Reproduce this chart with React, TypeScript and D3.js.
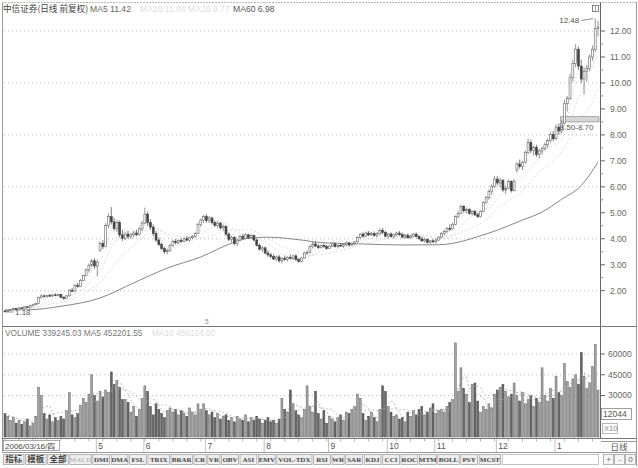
import * as d3 from "d3"

const W = 638
const H = 468

const startLabel = "2006/03/16/四"
const months = ["5", "6", "7", "8", "9", "10", "11", "12", "1"]
const monthStart = [33, 50, 72, 93, 116, 137, 154, 176, 197]

const priceTicks = [2, 3, 4, 5, 6, 7, 8, 9, 10, 11, 12]
const priceGrid = [2, 4, 6, 8, 10, 12]
const volTicks = [30000, 45000, 60000]
const zone = [8.5, 8.7]
const zoneStart = 199

// daily [open, high, low, close]
const ohlc: number[][] = [
  [1.22, 1.25, 1.18, 1.21], [1.21, 1.26, 1.2, 1.24], [1.24, 1.3, 1.23, 1.28], [1.28, 1.33, 1.26, 1.31],
  [1.31, 1.33, 1.27, 1.29], [1.29, 1.36, 1.28, 1.34], [1.34, 1.38, 1.31, 1.33], [1.33, 1.4, 1.32, 1.38],
  [1.38, 1.41, 1.34, 1.36], [1.36, 1.45, 1.35, 1.43], [1.43, 1.48, 1.4, 1.46], [1.46, 1.52, 1.44, 1.5],
  [1.5, 1.78, 1.49, 1.74], [1.74, 1.86, 1.7, 1.8], [1.8, 1.86, 1.74, 1.78], [1.78, 1.84, 1.74, 1.82],
  [1.82, 1.88, 1.77, 1.8], [1.8, 1.86, 1.76, 1.84], [1.84, 1.9, 1.79, 1.82], [1.82, 1.88, 1.78, 1.85],
  [1.85, 1.87, 1.72, 1.74], [1.74, 1.78, 1.65, 1.7], [1.7, 1.82, 1.68, 1.8], [1.8, 2.06, 1.78, 2.02],
  [2.02, 2.1, 1.95, 1.98], [1.98, 2.25, 1.97, 2.21], [2.21, 2.3, 2.12, 2.16], [2.16, 2.45, 2.15, 2.4],
  [2.4, 2.62, 2.38, 2.58], [2.58, 2.85, 2.55, 2.8], [2.8, 3.05, 2.7, 2.98], [2.98, 3.22, 2.9, 3.15],
  [3.15, 3.25, 2.85, 2.95], [2.95, 3.2, 2.55, 3.1], [3.55, 3.9, 3.5, 3.82], [3.82, 3.95, 3.6, 3.7],
  [3.7, 4.6, 3.68, 4.52], [4.52, 4.98, 4.4, 4.85], [4.85, 5.22, 4.55, 4.65], [4.65, 4.8, 4.3, 4.4],
  [4.4, 4.72, 4.25, 4.62], [4.62, 4.7, 4.05, 4.15], [4.15, 4.35, 3.92, 4.02], [4.02, 4.25, 3.95, 4.18],
  [4.18, 4.3, 4.0, 4.08], [4.08, 4.22, 3.98, 4.15], [4.15, 4.3, 4.05, 4.22], [4.22, 4.35, 4.1, 4.16],
  [4.16, 4.45, 4.12, 4.38], [4.38, 4.7, 4.3, 4.6], [4.6, 5.2, 4.55, 4.95], [4.95, 5.05, 4.5, 4.62],
  [4.62, 4.75, 4.35, 4.45], [4.45, 4.55, 4.1, 4.2], [4.2, 4.3, 3.88, 3.95], [3.95, 4.05, 3.72, 3.78],
  [3.78, 3.85, 3.55, 3.62], [3.62, 3.7, 3.42, 3.5], [3.5, 3.62, 3.4, 3.55], [3.55, 3.8, 3.5, 3.74],
  [3.74, 3.95, 3.7, 3.9], [3.9, 4.0, 3.78, 3.85], [3.85, 3.98, 3.8, 3.94], [3.94, 4.02, 3.85, 3.9],
  [3.9, 4.05, 3.86, 4.0], [4.0, 4.1, 3.9, 3.95], [3.95, 4.08, 3.88, 4.04], [4.04, 4.15, 3.98, 4.1],
  [4.1, 4.25, 4.05, 4.2], [4.2, 4.62, 4.18, 4.55], [4.55, 4.78, 4.45, 4.72], [4.72, 4.92, 4.6, 4.85],
  [4.85, 4.95, 4.62, 4.7], [4.7, 4.88, 4.6, 4.8], [4.8, 4.85, 4.55, 4.62], [4.62, 4.7, 4.45, 4.52],
  [4.52, 4.68, 4.4, 4.6], [4.6, 4.65, 4.35, 4.42], [4.42, 4.55, 4.3, 4.48], [4.48, 4.52, 4.1, 4.18],
  [4.18, 4.25, 3.9, 3.98], [3.98, 4.12, 3.85, 4.05], [4.05, 4.1, 3.75, 3.82], [3.82, 4.0, 3.72, 3.95],
  [3.95, 4.15, 3.9, 4.08], [4.08, 4.18, 3.95, 4.02], [4.02, 4.22, 4.0, 4.15], [4.15, 4.2, 4.0, 4.05],
  [4.05, 4.18, 3.98, 4.12], [4.12, 4.16, 3.9, 3.95], [3.95, 4.0, 3.7, 3.75], [3.75, 3.82, 3.55, 3.6],
  [3.6, 3.72, 3.48, 3.65], [3.65, 3.7, 3.4, 3.45], [3.45, 3.55, 3.3, 3.38], [3.38, 3.45, 3.25, 3.32],
  [3.32, 3.4, 3.18, 3.22], [3.22, 3.35, 3.15, 3.3], [3.3, 3.38, 3.08, 3.15], [3.15, 3.28, 3.05, 3.25],
  [3.25, 3.35, 3.15, 3.2], [3.2, 3.32, 3.12, 3.28], [3.28, 3.4, 3.2, 3.25], [3.25, 3.38, 3.18, 3.34],
  [3.34, 3.4, 3.15, 3.2], [3.2, 3.25, 3.08, 3.12], [3.12, 3.3, 3.1, 3.26], [3.26, 3.5, 3.24, 3.45],
  [3.45, 3.55, 3.38, 3.48], [3.48, 3.75, 3.45, 3.7], [3.7, 3.88, 3.62, 3.8], [3.8, 3.9, 3.68, 3.72],
  [3.72, 3.8, 3.6, 3.66], [3.66, 3.78, 3.62, 3.74], [3.74, 3.82, 3.65, 3.7], [3.7, 3.76, 3.58, 3.63],
  [3.63, 3.75, 3.6, 3.72], [3.72, 3.85, 3.68, 3.8], [3.8, 3.86, 3.66, 3.7], [3.7, 3.78, 3.62, 3.75],
  [3.75, 3.82, 3.68, 3.72], [3.72, 3.8, 3.65, 3.78], [3.78, 3.9, 3.72, 3.84], [3.84, 3.88, 3.7, 3.76],
  [3.76, 3.86, 3.72, 3.82], [3.82, 3.92, 3.75, 3.88], [3.88, 4.1, 3.85, 4.05], [4.05, 4.22, 4.0, 4.18],
  [4.18, 4.25, 4.05, 4.1], [4.1, 4.28, 4.08, 4.22], [4.22, 4.3, 4.1, 4.15], [4.15, 4.26, 4.1, 4.2],
  [4.2, 4.28, 4.08, 4.12], [4.12, 4.25, 4.05, 4.2], [4.2, 4.4, 4.15, 4.32], [4.32, 4.42, 4.18, 4.25],
  [4.25, 4.3, 4.05, 4.1], [4.1, 4.22, 4.02, 4.18], [4.18, 4.25, 4.05, 4.08], [4.08, 4.2, 4.0, 4.15],
  [4.15, 4.28, 4.1, 4.22], [4.22, 4.3, 4.12, 4.16], [4.16, 4.24, 4.02, 4.06], [4.06, 4.18, 4.0, 4.12],
  [4.12, 4.2, 4.0, 4.04], [4.04, 4.15, 3.98, 4.1], [4.1, 4.22, 4.05, 4.18], [4.18, 4.24, 4.05, 4.08],
  [4.08, 4.12, 3.96, 4.0], [4.0, 4.06, 3.88, 3.92], [3.92, 4.02, 3.85, 3.97], [3.97, 4.0, 3.82, 3.86],
  [3.86, 3.95, 3.8, 3.92], [3.92, 3.98, 3.84, 3.88], [3.88, 4.0, 3.82, 3.95], [3.95, 4.1, 3.92, 4.06],
  [4.06, 4.25, 4.02, 4.2], [4.2, 4.35, 4.12, 4.28], [4.28, 4.45, 4.22, 4.4], [4.4, 4.55, 4.3, 4.38],
  [4.38, 4.62, 4.35, 4.55], [4.55, 4.9, 4.52, 4.85], [4.85, 5.05, 4.78, 4.98], [4.98, 5.32, 4.95, 5.25],
  [5.25, 5.3, 5.0, 5.08], [5.08, 5.2, 4.98, 5.12], [5.12, 5.18, 4.92, 4.98], [4.98, 5.1, 4.9, 5.05],
  [5.05, 5.12, 4.88, 4.92], [4.92, 5.0, 4.8, 4.85], [4.85, 5.1, 4.82, 5.05], [5.05, 5.45, 5.02, 5.4],
  [5.4, 5.65, 5.35, 5.58], [5.58, 5.9, 5.5, 5.82], [5.82, 6.1, 5.7, 6.02], [6.02, 6.4, 5.95, 6.3],
  [6.3, 6.42, 6.05, 6.15], [6.15, 6.35, 5.98, 6.25], [6.25, 6.3, 5.8, 5.88], [5.88, 6.05, 5.72, 5.95],
  [5.95, 6.28, 5.9, 6.2], [6.2, 6.25, 5.78, 5.85], [5.85, 6.3, 5.82, 6.22], [6.65, 6.95, 6.55, 6.88],
  [6.88, 7.05, 6.7, 6.78], [6.78, 7.0, 6.65, 6.95], [6.95, 7.4, 6.9, 7.32], [7.32, 7.85, 7.25, 7.7],
  [7.7, 7.82, 7.3, 7.4], [7.4, 7.6, 7.2, 7.52], [7.52, 7.62, 7.15, 7.25], [7.25, 7.45, 7.1, 7.38],
  [7.38, 7.55, 7.25, 7.48], [7.48, 7.7, 7.4, 7.62], [7.62, 7.85, 7.5, 7.78], [7.78, 8.1, 7.7, 8.02],
  [8.02, 8.15, 7.75, 7.85], [7.85, 8.4, 7.8, 8.3], [8.3, 8.45, 8.0, 8.15], [8.15, 8.55, 8.05, 8.45],
  [8.45, 9.35, 8.4, 9.2], [9.2, 9.5, 8.9, 9.4], [9.4, 10.35, 9.35, 10.2], [10.2, 10.9, 10.05, 10.75],
  [10.75, 11.5, 10.6, 11.3], [11.3, 11.4, 10.5, 10.65], [10.65, 10.9, 10.0, 10.15], [10.15, 10.6, 9.55, 10.45],
  [10.45, 10.7, 10.05, 10.55], [10.55, 11.1, 10.45, 11.0], [11.0, 11.45, 10.85, 11.3], [11.3, 12.48, 11.2, 12.1],
  [12.1, 12.4, 11.8, 12.15],
]

// MA60: [day index, value]
const ma60Read: number[][] = [
  [0, 1.26], [9, 1.27], [20, 1.4], [34, 1.72], [46, 2.3], [58, 2.87], [70, 3.3], [81, 3.83],
  [86, 4.0], [94, 4.06], [106, 3.95], [113, 3.85], [128, 3.8], [142, 3.76], [155, 3.77],
  [173, 4.22], [185, 4.72], [192, 5.03], [199, 5.52], [206, 6.05], [212, 6.95],
]

// daily volume (x10 lots)
const volume: number[] = [
  17000, 15000, 12000, 14000, 10000, 12000, 9000, 11000, 13000, 8000, 10000, 15000,
  36000, 30000, 17000, 13000, 16000, 11000, 14000, 12000, 15000, 13000, 19000, 32000,
  16000, 14000, 17000, 23000, 28000, 25000, 31000, 45000, 30000, 26000, 33000, 29000,
  34000, 32000, 47000, 38000, 41000, 36000, 27000, 27000, 25000, 18000, 22000, 15000,
  20000, 28000, 37000, 33000, 22000, 16000, 24000, 20000, 17000, 14000, 19000, 21000,
  18000, 20000, 16000, 19000, 17000, 15000, 21000, 18000, 16000, 24000, 20000, 24000,
  19000, 16000, 18000, 14000, 17000, 13000, 15000, 16000, 12000, 14000, 11000, 15000,
  13000, 12000, 16000, 11000, 14000, 12000, 15000, 13000, 10000, 12000, 14000, 11000,
  12000, 10000, 13000, 28000, 20000, 18000, 34000, 24000, 19000, 16000, 14000, 20000,
  37000, 22000, 18000, 33000, 17000, 13000, 19000, 10000, 15000, 13000, 11000, 14000,
  16000, 12000, 18000, 17000, 20000, 22000, 31000, 28000, 17000, 12000, 15000, 18000,
  14000, 11000, 20000, 37000, 33000, 22000, 18000, 15000, 16000, 13000, 14000, 11000,
  18000, 15000, 19000, 16000, 20000, 22000, 16000, 18000, 21000, 24000, 17000, 19000,
  20000, 18000, 22000, 25000, 27000, 68000, 33000, 50000, 35000, 31000, 25000, 38000,
  39000, 26000, 18000, 22000, 20000, 24000, 21000, 31000, 34000, 36000, 38000, 33000,
  29000, 31000, 39000, 30000, 26000, 32000, 24000, 27000, 30000, 22000, 28000, 25000,
  50000, 30000, 26000, 35000, 28000, 44000, 32000, 30000, 53000, 40000, 36000, 42000,
  45000, 38000, 61000, 44000, 35000, 39200, 51000, 67000, 33924,
]

const buttons = [
  "指标", "模板", "全部", "MACD", "DMI", "DMA", "FSL", "TRIX", "BRAR", "CR", "VR", "OBV", "ASI",
  "EMV", "VOL-TDX", "RSI", "WR", "SAR", "KDJ", "CCI", "ROC", "MTM", "BOLL", "PSY", "MCST",
]

const movingAvg = (vals: number[], n: number) =>
  vals.map((_, i) => d3.mean(vals.slice(Math.max(0, i - n + 1), i + 1)) as number)

const SANS = "'Liberation Sans', Arial, sans-serif"
const SERIF = "'Liberation Serif', serif"
const CJK = "'Noto Sans CJK SC', sans-serif"
const isCJK = (s: string) => /[\u4e00-\u9fff]/.test(s)

export default function App() {
  const n = ohlc.length
  const x = d3.scaleBand<number>().domain(d3.range(n)).range([4, 599]).paddingInner(0.3)
  const bw = x.bandwidth()
  const cx = (i: number) => (x(i) as number) + bw / 2
  const y = d3.scaleLinear().domain([2, 12]).range([290.7, 31])
  const yv = d3.scaleLinear().domain([0, 60000]).range([437, 354])

  const closes = ohlc.map((d) => d[3])
  const line = d3.line<number>().x((_, i) => cx(i)).y((v) => y(v)).curve(d3.curveMonotoneX)
  const maLine = d3
    .line<number[]>()
    .x((d) => cx(d[0]))
    .y((d) => y(d[1]))
    .curve(d3.curveMonotoneX)
  const vline = d3.line<number>().x((_, i) => cx(i)).y((v) => yv(v))
  const ma5 = movingAvg(closes, 5)
  const ma10 = movingAvg(closes, 10)
  const ma20 = movingAvg(closes, 20)
  const vma5 = movingAvg(volume, 5)
  const vma10 = movingAvg(volume, 10)

  const lowIdx = d3.minIndex(ohlc, (d) => d[2])
  const highIdx = d3.maxIndex(ohlc, (d) => d[1])
  const low = ohlc[lowIdx][2]
  const high = ohlc[highIdx][1]

  const minorTicks = d3.range(2, 12.01, 0.5).filter((v) => !priceTicks.includes(v))

  // button layout from label length
  let bx = 3
  const btns = buttons.map((b) => {
    const w = isCJK(b) ? 20.5 : 4.6 * b.length + 3
    const r = { label: b, x: bx, w }
    bx += w + 1.6
    return r
  })

  return (
    <svg width={W} height={H} style={{ position: "fixed", left: 0, top: 0, background: "#fff" }}>
      <rect x={0} y={0} width={W} height={H} fill="#fff" />
      {/* frame */}
      <line x1={2.5} x2={2.5} y1={2} y2={453} stroke="#999" />
      <line x1={2} x2={636} y1={2.5} y2={2.5} stroke="#bbb" strokeDasharray="2,1" />
      <line x1={600.5} x2={600.5} y1={2} y2={439} stroke="#666" />
      <line x1={636.5} x2={636.5} y1={2} y2={466} stroke="#999" />
      <line x1={2} x2={637} y1={326.5} y2={326.5} stroke="#777" />
      <line x1={2} x2={637} y1={438.5} y2={438.5} stroke="#777" />
      <line x1={2} x2={637} y1={452.5} y2={452.5} stroke="#999" />

      {/* title */}
      <text x={3} y={12} fontSize={8.6} fontFamily={CJK} fill="#444">
        中信证券(日线 前复权)
      </text>
      <text x={90} y={12} fontSize={8.6} fontFamily={SANS} fill="#666">
        MA5 11.42
      </text>
      <text x={140} y={12} fontSize={8.6} fontFamily={SANS} fill="#ddd">
        {`MA10 ${ma10[n - 1].toFixed(2)} MA20 ${ma20[n - 1].toFixed(2)}`}
      </text>
      <text x={233} y={12} fontSize={8.6} fontFamily={SANS} fill="#555">
        MA60 6.98
      </text>
      <rect x={592.5} y={5.5} width={6} height={6} fill="none" stroke="#666" strokeWidth={0.8} />
      <line x1={595.5} x2={595.5} y1={6} y2={11} stroke="#666" strokeWidth={0.6} />

      {/* price grid + axis */}
      {priceGrid.map((v) => (
        <line key={"g" + v} x1={4} x2={600} y1={y(v)} y2={y(v)} stroke="#bbb" strokeDasharray="1,3" />
      ))}
      {priceTicks.map((v) => (
        <g key={"t" + v}>
          <line x1={600} x2={605} y1={y(v)} y2={y(v)} stroke="#666" />
          <text x={610} y={y(v)} dy="0.35em" fontSize={8.5} fontFamily={SANS} fill="#666">
            {v.toFixed(2)}
          </text>
        </g>
      ))}
      {minorTicks.map((v) => (
        <line key={"m" + v} x1={600} x2={603} y1={y(v)} y2={y(v)} stroke="#888" />
      ))}

      {/* moving averages */}
      <path d={maLine(ma60Read) ?? ""} fill="none" stroke="#777" strokeWidth={0.9} />
      <path d={line(ma20) ?? ""} fill="none" stroke="#ccc" strokeWidth={0.7} strokeDasharray="2,2" />
      <path d={line(ma10) ?? ""} fill="none" stroke="#ccc" strokeWidth={0.7} strokeDasharray="2,2" />
      <path d={line(ma5) ?? ""} fill="none" stroke="#bbb" strokeWidth={0.7} strokeDasharray="1,2" />

      {/* price zone */}
      <rect
        x={x(zoneStart) as number}
        y={y(zone[1])}
        width={599 - (x(zoneStart) as number)}
        height={y(zone[0]) - y(zone[1])}
        fill="#d6d6d6"
        stroke="#888"
        strokeWidth={0.7}
      />

      {/* candles */}
      {ohlc.map(([o, h, l, c], i) => {
        const up = c >= o
        const top = y(Math.max(o, c))
        const bh = Math.max(0.8, Math.abs(y(o) - y(c)))
        return (
          <g key={"c" + i}>
            <line x1={cx(i)} x2={cx(i)} y1={y(h)} y2={y(l)} stroke={up ? "#666" : "#444"} strokeWidth={0.7} />
            <rect
              x={x(i) as number}
              y={top}
              width={bw}
              height={bh}
              fill={up ? "#fff" : "#444"}
              stroke={up ? "#666" : "#444"}
              strokeWidth={0.6}
            />
          </g>
        )
      })}
      <text x={(x(zoneStart) as number) - 1} y={y(zone[0]) + 8} fontSize={8} fontFamily={SANS} fill="#555">
        {`${zone[0].toFixed(2)}-${zone[1].toFixed(2)}`}
      </text>

      {/* low / high marks */}
      <line x1={cx(lowIdx)} x2={cx(lowIdx) + 9} y1={y(low)} y2={y(low)} stroke="#666" strokeWidth={0.7} />
      <text x={cx(lowIdx) + 10} y={y(low)} dy="0.35em" fontSize={8} fontFamily={SANS} fill="#555">
        {low.toFixed(2)}
      </text>
      <line x1={cx(highIdx) - 2} x2={cx(highIdx) - 14} y1={y(high)} y2={y(high) + 2} stroke="#666" strokeWidth={0.7} />
      <text x={cx(highIdx) - 16} y={y(high) + 2} dy="0.35em" textAnchor="end" fontSize={8} fontFamily={SANS} fill="#555">
        {high.toFixed(2)}
      </text>
      <text x={205} y={324} fontSize={6.5} fontFamily={SANS} fill="#888">
        5
      </text>

      {/* volume panel */}
      <text x={5} y={336} fontSize={8.3} fontFamily={SANS} fill="#777">
        VOLUME 339245.03 MA5 452201.55
      </text>
      <text x={152} y={336} fontSize={8.3} fontFamily={SANS} fill="#ddd">
        {`MA10 ${(vma10[n - 1] * 10).toFixed(2)}`}
      </text>
      {volTicks.map((v) => (
        <g key={"v" + v}>
          <line x1={4} x2={600} y1={yv(v)} y2={yv(v)} stroke="#bbb" strokeDasharray="1,3" />
          <line x1={600} x2={605} y1={yv(v)} y2={yv(v)} stroke="#666" />
          <text x={608} y={yv(v)} dy="0.35em" fontSize={8.5} fontFamily={SANS} fill="#666">
            {v}
          </text>
        </g>
      ))}
      {volume.map((v, i) => {
        const up = ohlc[i][3] >= ohlc[i][0]
        return (
          <rect
            key={"b" + i}
            x={x(i) as number}
            y={yv(v)}
            width={bw}
            height={yv(0) - yv(v)}
            fill={up ? "#a4a4a4" : "#666"}
            stroke={up ? "#666" : "#4a4a4a"}
            strokeWidth={0.5}
          />
        )
      })}
      <path d={vline(vma5) ?? ""} fill="none" stroke="#999" strokeWidth={0.7} strokeDasharray="2,2" />
      <path d={vline(vma10) ?? ""} fill="none" stroke="#aaa" strokeWidth={0.7} strokeDasharray="2,2" />
      <rect x={601.5} y={408.5} width={30} height={11} fill="#fff" stroke="#777" strokeWidth={0.7} />
      <text x={603} y={414} dy="0.35em" fontSize={8.5} fontFamily={SANS} fill="#555">
        12044
      </text>
      <rect x={602.5} y={423.5} width={15} height={10} fill="#fff" stroke="#999" strokeWidth={0.7} />
      <text x={604} y={428.5} dy="0.35em" fontSize={7.5} fontFamily={SANS} fill="#888">
        X10
      </text>

      {/* date strip */}
      {d3.range(0, n, 5).map((i) => (
        <line key={"d" + i} x1={cx(i)} x2={cx(i)} y1={439} y2={441.5} stroke="#888" strokeWidth={0.6} />
      ))}
      {monthStart.map((i, k) => (
        <g key={"mo" + k}>
          <line x1={x(i) as number} x2={x(i) as number} y1={439} y2={452} stroke="#999" strokeWidth={0.6} />
          <text x={(x(i) as number) + 2} y={449} fontSize={8.5} fontFamily={SANS} fill="#555">
            {months[k]}
          </text>
        </g>
      ))}
      <rect x={3.5} y={440.5} width={56} height={10} fill="#fff" stroke="#888" strokeWidth={0.7} />
      <text x={5} y={449} fontSize={8} fontFamily={SANS} fill="#444">
        {startLabel}
      </text>
      <line x1={601} x2={637} y1={441.5} y2={441.5} stroke="#999" />
      <text x={619} y={449.5} textAnchor="middle" fontSize={8.5} fontFamily={CJK} fill="#555">
        日线
      </text>

      {/* buttons */}
      {btns.map((b) => (
        <g key={b.label}>
          <rect x={b.x + 0.5} y={454.5} width={b.w} height={10} fill="#eee" stroke="#999" strokeWidth={0.7} />
          <text
            x={b.x + 0.5 + b.w / 2}
            y={459.5}
            dy="0.35em"
            textAnchor="middle"
            fontSize={isCJK(b.label) ? 8.5 : 7}
            fontFamily={isCJK(b.label) ? CJK : SERIF}
            fontWeight={600}
            fill={b.label === "MACD" ? "#bbb" : "#444"}
          >
            {b.label}
          </text>
        </g>
      ))}
      <rect x={bx + 0.5} y={454.5} width={598 - bx} height={10} fill="#fff" stroke="#aaa" strokeWidth={0.7} />
      {["+", "-", "0"].map((s, k) => (
        <g key={"pm" + k}>
          <rect x={603.5 + k * 11} y={454.5} width={10} height={10} fill="#f4f4f4" stroke="#999" strokeWidth={0.7} />
          <text x={608.5 + k * 11} y={459.5} dy="0.35em" textAnchor="middle" fontSize={8} fontFamily={SANS} fill="#666">
            {s}
          </text>
        </g>
      ))}
    </svg>
  )
}
